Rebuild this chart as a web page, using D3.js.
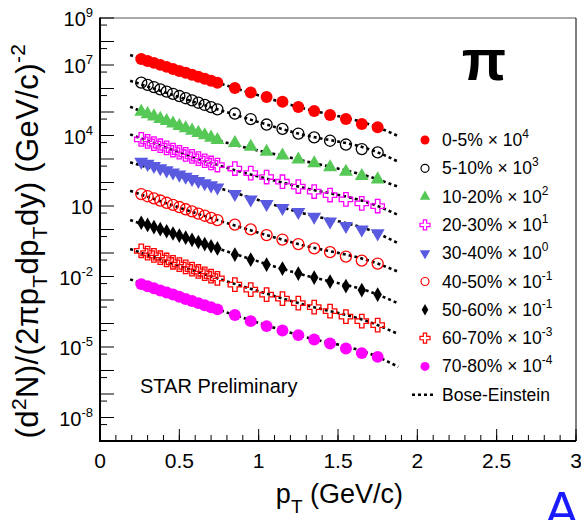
<!DOCTYPE html>
<html>
<head>
<meta charset="utf-8">
<script src="https://cdn.jsdelivr.net/npm/d3@7"></script>
<style>
  body { margin: 0; background: #fff; }
  svg { display: block; }
  text { font-family: "Liberation Sans", Arial, Helvetica, sans-serif; fill: #000; }
</style>
</head>
<body>
<svg id="chart" width="581" height="520"></svg>
<script>
// Transverse momentum bins (GeV/c)
const pt = [0.26, 0.30, 0.34, 0.38, 0.42, 0.46, 0.50, 0.54, 0.58, 0.62, 0.66, 0.70, 0.74,
            0.85, 0.95, 1.05, 1.15, 1.25, 1.35, 1.45, 1.55, 1.65, 1.75];

// Scaled pion yields per centrality class
const y0_5 = [1.8e7, 1.48e7, 1.23e7, 1.01e7, 8.3e6, 6.8e6, 5.6e6, 4.66e6, 3.83e6, 3.15e6, 2.59e6, 2.15e6, 1.77e6,
              1.05e6, 6.75e5, 4.35e5, 2.71e5, 1.63e5, 1.10e5, 7.4e4, 5.0e4, 3.08e4, 2.23e4];
const y5_10 = [1.77e6, 1.42e6, 1.15e6, 9.15e5, 7.38e5, 5.94e5, 4.79e5, 3.86e5, 3.11e5, 2.48e5, 2.0e5, 1.61e5, 1.30e5,
               8.6e4, 5.0e4, 2.93e4, 1.92e4, 1.21e4, 8.36e3, 5.98e3, 4.13e3, 2.65e3, 1.92e3];
const y10_20 = [1.03e5, 8.1e4, 6.5e4, 5.1e4, 4.1e4, 3.24e4, 2.55e4, 2.04e4, 1.61e4, 1.29e4, 1.02e4, 8.1e3, 6.4e3,
                4.79e3, 3.33e3, 2.04e3, 1.40e3, 948, 653, 442, 287, 188, 136];
const y20_30 = [6.87e3, 5.6e3, 4.51e3, 3.67e3, 2.96e3, 2.41e3, 1.94e3, 1.58e3, 1.29e3, 1.04e3, 843, 679, 553,
                393, 252, 171, 108, 67.3, 41.2, 29.2, 19.2, 13.0, 9.95];
const y30_40 = [764, 619, 501, 406, 329, 267, 216, 175, 142, 115, 92.9, 75.3, 61.0,
                32.2, 18.8, 12.1, 8.17, 5.52, 3.48, 2.18, 1.40, 1.01, 0.685];
const y40_50 = [32.2, 26.0, 21.1, 17.1, 13.7, 11.2, 9.02, 7.26, 5.92, 4.76, 3.85, 3.13, 2.52,
                1.62, 1.01, 0.58, 0.373, 0.240, 0.157, 0.109, 0.0705, 0.0476, 0.0355];
const y50_60 = [1.94, 1.57, 1.27, 1.03, 0.841, 0.678, 0.552, 0.449, 0.362, 0.294, 0.240, 0.193, 0.157,
                0.0857, 0.0525, 0.0321, 0.0217, 0.0133, 0.0090, 0.00608, 0.00391, 0.00264, 0.00170];
const y60_70 = [0.124, 0.0993, 0.0793, 0.0632, 0.0505, 0.0403, 0.0321, 0.0256, 0.0205, 0.0164, 0.0131, 0.0104, 0.00832,
                0.00453, 0.00277, 0.00170, 0.00115, 7.38e-4, 4.99e-4, 3.37e-4, 1.97e-4, 1.26e-4, 8.55e-5];
const y70_80 = [4.75e-3, 3.87e-3, 3.15e-3, 2.56e-3, 2.09e-3, 1.70e-3, 1.38e-3, 1.11e-3, 9.08e-4, 7.38e-4, 6.01e-4, 4.89e-4, 3.98e-4,
                2.28e-4, 1.26e-4, 7.74e-5, 4.99e-5, 3.21e-5, 2.07e-5, 1.40e-5, 8.7e-6, 5.5e-6, 3.8e-6];

// Bose-Einstein fit curves, sampled at these pT nodes
const fitPt = [0.19, 0.74, 1.25, 1.75, 1.88];
const fit0_5  = [2.67e7, 1.77e6, 1.63e5, 2.23e4, 9.5e3];
const fit5_10 = [2.15e6, 1.30e5, 1.21e4, 1.92e3, 764];
const fit10_20 = [1.68e5, 6.4e3, 948, 136, 65.9];
const fit20_30 = [1.12e4, 553, 67.3, 9.95, 4.11];
const fit30_40 = [721, 61.0, 5.52, 0.685, 0.257];
const fit40_50 = [44.6, 2.52, 0.240, 0.0355, 0.0159];
const fit50_60 = [2.52, 0.157, 0.0133, 0.00170, 7.18e-4];
const fit60_70 = [0.147, 0.00832, 7.38e-4, 8.55e-5, 3.54e-5];
const fit70_80 = [0.00753, 3.98e-4, 3.21e-5, 3.8e-6, 1.44e-6];

// Legend text
const centralities = ["0-5%", "5-10%", "10-20%", "20-30%", "30-40%", "40-50%", "50-60%", "60-70%", "70-80%"];
const scaleExps = ["4", "3", "2", "1", "0", "-1", "-1", "-3", "-4"];

// Axis labels
const xTickLabels = ["0", "0.5", "1", "1.5", "2", "2.5", "3"];
const yLabelExps = [9, 7, 4, 1, -2, -5, -8];

const yields = [y0_5, y5_10, y10_20, y20_30, y30_40, y40_50, y50_60, y60_70, y70_80];
const fits = [fit0_5, fit5_10, fit10_20, fit20_30, fit30_40, fit40_50, fit50_60, fit60_70, fit70_80];

// Marker style per centrality class
const styles = [
  { shape: d3.symbolCircle,   color: "#ff0000", filled: true,  size: 112, lsize: 64 },
  { shape: d3.symbolCircle,   color: "#000000", filled: false, size: 96,  lsize: 50 },
  { shape: d3.symbolTriangle, color: "#56c856", filled: true,  size: 84,  lsize: 48 },
  { shape: d3.symbolCross,    color: "#ff00ff", filled: false, size: 100, lsize: 56 },
  { shape: d3.symbolTriangle, color: "#5a5ae0", filled: true,  size: 84,  lsize: 48, flip: true },
  { shape: d3.symbolCircle,   color: "#ff0000", filled: false, size: 96,  lsize: 50 },
  { shape: d3.symbolDiamond,  color: "#000000", filled: true,  size: 62,  lsize: 38 },
  { shape: d3.symbolCross,    color: "#ff0000", filled: false, size: 100, lsize: 56 },
  { shape: d3.symbolCircle,   color: "#ff00ff", filled: true,  size: 112, lsize: 64 }
];

const svg = d3.select("#chart");
const plotL = 100, plotR = 576, plotT = 18, plotB = 441;

const x = d3.scaleLinear().domain([0, 3]).range([plotL, plotR]);
const y = d3.scaleLog().domain([1e-9, 1e9]).range([plotB, plotT]);

// Frame
svg.append("line").attr("x1", plotL).attr("x2", plotR).attr("y1", plotT).attr("y2", plotT)
  .attr("stroke", "#555").attr("stroke-width", 1);
svg.append("line").attr("x1", plotR).attr("x2", plotR).attr("y1", plotT).attr("y2", plotB)
  .attr("stroke", "#000").attr("stroke-width", 1);

// Y axis ticks (decades and 5x minors), pointing inward
const decades = d3.range(-9, 10).map(e => Math.pow(10, e));
const fives = d3.range(-9, 9).map(e => 5 * Math.pow(10, e));
const yAxis = svg.append("g");
yAxis.selectAll("line.maj").data(decades).join("line")
  .attr("x1", plotL).attr("x2", plotL + 14)
  .attr("y1", d => y(d)).attr("y2", d => y(d))
  .attr("stroke", "#000").attr("stroke-width", 1);
yAxis.selectAll("line.min").data(fives).join("line")
  .attr("x1", plotL).attr("x2", plotL + 7)
  .attr("y1", d => y(d)).attr("y2", d => y(d))
  .attr("stroke", "#000").attr("stroke-width", 1);
svg.append("line").attr("x1", plotL).attr("x2", plotL).attr("y1", plotT - 0.5).attr("y2", plotB + 1)
  .attr("stroke", "#000").attr("stroke-width", 2);

// Y tick labels
yLabelExps.forEach(e => {
  const t = svg.append("text").attr("x", 93).attr("y", y(Math.pow(10, e)) + 8)
    .attr("text-anchor", "end").attr("font-size", 20);
  t.append("tspan").text("10");
  if (e !== 1) t.append("tspan").attr("font-size", 13).attr("dy", -9).text(e);
});

// X axis
const xMajor = d3.range(0, 3.01, 0.5);
const xMinor = d3.range(0, 3.01, 0.1);
svg.selectAll("line.xmin").data(xMinor).join("line")
  .attr("x1", d => x(d)).attr("x2", d => x(d))
  .attr("y1", plotB).attr("y2", plotB - 6)
  .attr("stroke", "#000").attr("stroke-width", 1);
svg.selectAll("line.xmaj").data(xMajor).join("line")
  .attr("x1", d => x(d)).attr("x2", d => x(d))
  .attr("y1", plotB).attr("y2", plotB - 12)
  .attr("stroke", "#000").attr("stroke-width", 1);
svg.append("line").attr("x1", plotL - 1).attr("x2", plotR).attr("y1", plotB).attr("y2", plotB)
  .attr("stroke", "#000").attr("stroke-width", 2);
svg.selectAll("text.xt").data(xMajor).join("text")
  .attr("x", d => x(d)).attr("y", 468)
  .attr("text-anchor", "middle").attr("font-size", 21)
  .text((d, i) => xTickLabels[i]);

// Axis titles
const xt = svg.append("text").attr("x", 403).attr("y", 503).attr("text-anchor", "end").attr("font-size", 27);
xt.append("tspan").text("p");
xt.append("tspan").attr("font-size", 19).attr("dy", 10).text("T");
xt.append("tspan").attr("dy", -10).text(" (GeV/c)");

const yt = svg.append("text").attr("transform", "translate(38,241) rotate(-90)")
  .attr("text-anchor", "middle").attr("font-size", 31).attr("letter-spacing", 0.4);
yt.append("tspan").text("(d");
yt.append("tspan").attr("font-size", 21).attr("dy", -12).text("2");
yt.append("tspan").attr("dy", 12).text("N)/(2\u03c0p");
yt.append("tspan").attr("font-size", 21).attr("dy", 9).text("T");
yt.append("tspan").attr("dy", -9).text("dp");
yt.append("tspan").attr("font-size", 21).attr("dy", 9).text("T");
yt.append("tspan").attr("dy", -9).text("dy) (GeV/c)");
yt.append("tspan").attr("font-size", 21).attr("dy", -13).text("-2");

// Fit curves (dotted)
const fitLine = d3.line().x(d => x(d[0])).y(d => y(d[1])).curve(d3.curveMonotoneX);
fits.forEach(f => {
  svg.append("path").attr("d", fitLine(fitPt.map((p, i) => [p, f[i]])))
    .attr("fill", "none").attr("stroke", "#000").attr("stroke-width", 2.6)
    .attr("stroke-dasharray", "3,3");
});

// Data markers
function markerPath(st, size) {
  return d3.symbol().type(st.shape).size(size)();
}
yields.forEach((ys, k) => {
  const st = styles[k];
  svg.append("g").selectAll("path").data(pt.map((p, i) => [p, ys[i]])).join("path")
    .attr("d", markerPath(st, st.size))
    .attr("transform", d => `translate(${x(d[0])},${y(d[1])})` + (st.flip ? " rotate(180)" : ""))
    .attr("fill", st.filled ? st.color : "none")
    .attr("stroke", st.filled ? "none" : st.color)
    .attr("stroke-width", 1.3);
});

// Legend
const legX = 425, legY0 = 140, legDy = 28.3;
centralities.forEach((c, k) => {
  const st = styles[k];
  const ly = legY0 + k * legDy;
  svg.append("path").attr("d", markerPath(st, st.lsize))
    .attr("transform", `translate(${legX},${ly})` + (st.flip ? " rotate(180)" : ""))
    .attr("fill", st.filled ? st.color : "none")
    .attr("stroke", st.filled ? "none" : st.color)
    .attr("stroke-width", 1.2);
  const t = svg.append("text").attr("x", 442).attr("y", ly + 6).attr("font-size", 17.5);
  t.append("tspan").text(c + " \u00d7 10");
  t.append("tspan").attr("font-size", 12).attr("dy", -8).text(scaleExps[k]);
});
const bey = legY0 + 9 * legDy;
svg.append("line").attr("x1", 412).attr("x2", 433).attr("y1", bey).attr("y2", bey)
  .attr("stroke", "#000").attr("stroke-width", 2.6).attr("stroke-dasharray", "3,3");
svg.append("text").attr("x", 442).attr("y", bey + 6).attr("font-size", 17.5).text("Bose-Einstein");

// Particle label and annotations
svg.append("text").attr("x", 484).attr("y", 80).attr("text-anchor", "middle")
  .attr("font-size", 58).attr("font-weight", "bold").text("\u03c0");
svg.append("text").attr("x", 140).attr("y", 393).attr("font-size", 20).text("STAR Preliminary");
svg.append("text").attr("x", 545).attr("y", 527).attr("font-size", 50).style("fill", "#1a1aff").text("Ar");
</script>
</body>
</html>
